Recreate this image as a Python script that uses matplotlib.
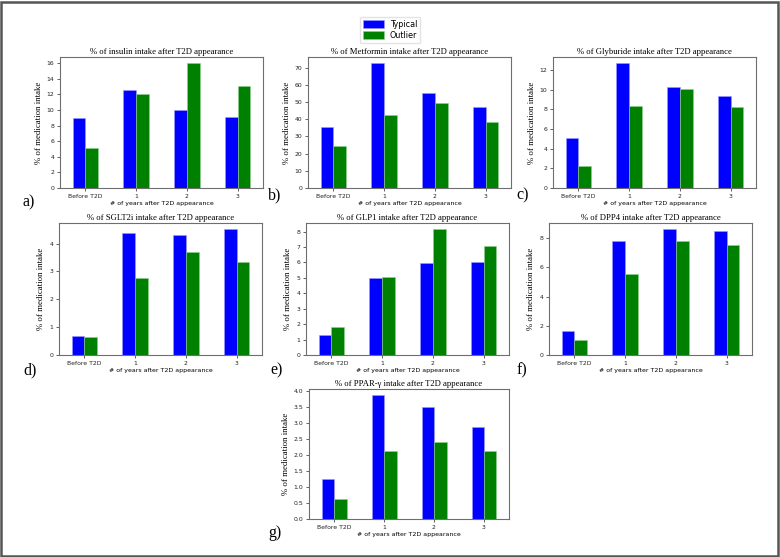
import matplotlib
matplotlib.use("Agg")
import matplotlib.pyplot as plt
from matplotlib.patches import Rectangle
import numpy as np

categories = ['Before T2D', '1', '2', '3']

drugs = ['insulin', 'Metformin', 'Glyburide', 'SGLT2i', 'GLP1', 'DPP4', 'PPAR-\u03b3']
panel_labels = ['a)', 'b)', 'c)', 'd)', 'e)', 'f)', 'g)']

typical_insulin = [9.0, 12.55, 10.05, 9.05]
outlier_insulin = [5.17, 12.05, 16.0, 13.03]
typical_metformin = [35.6, 72.5, 55.2, 47.3]
outlier_metformin = [24.2, 42.2, 49.6, 38.6]
typical_glyburide = [5.12, 12.7, 10.31, 9.4]
outlier_glyburide = [2.26, 8.36, 10.04, 8.29]
typical_sglt2i = [0.67, 4.39, 4.3, 4.51]
outlier_sglt2i = [0.63, 2.77, 3.7, 3.33]
typical_glp1 = [1.29, 5.02, 5.94, 6.05]
outlier_glp1 = [1.8, 5.04, 8.15, 7.06]
typical_dpp4 = [1.63, 7.8, 8.61, 8.47]
outlier_dpp4 = [1.02, 5.54, 7.8, 7.53]
typical_ppar = [1.26, 3.86, 3.5, 2.86]
outlier_ppar = [0.62, 2.12, 2.41, 2.12]

typical = [typical_insulin, typical_metformin, typical_glyburide, typical_sglt2i,
           typical_glp1, typical_dpp4, typical_ppar]
outlier = [outlier_insulin, outlier_metformin, outlier_glyburide, outlier_sglt2i,
           outlier_glp1, outlier_dpp4, outlier_ppar]

W, H = 780, 557
fig = plt.figure(figsize=(W / 100, H / 100), dpi=100)

# axes boxes in pixels: left, top, width, height
boxes = [(60, 57, 203, 131), (308, 57, 203, 131), (553, 57, 203, 131),
         (59, 223, 203, 132), (306, 223, 203, 132), (549, 223, 203, 132),
         (309, 389, 200, 130)]
label_pos = [(29, 202), (275, 195), (523, 195),
             (30, 370), (277, 370), (522, 370),
             (275, 533)]

serif = 'Liberation Serif'
barWidth = 0.25
x = np.arange(len(categories))

for i in range(len(drugs)):
    l, t, w, h = boxes[i]
    ax = fig.add_axes([l / W, 1 - (t + h) / H, w / W, h / H])
    ax.bar(x - barWidth / 2, typical[i], width=barWidth, color='#0000ff',
           edgecolor='#9a9aff', linewidth=0.4, label='Typical')
    ax.bar(x + barWidth / 2, outlier[i], width=barWidth, color='#008000',
           edgecolor='#8fd08f', linewidth=0.4, label='Outlier')
    ax.set_xlim(-0.5, 3.5)
    ax.set_xticks(x)
    ax.set_xticklabels(categories)
    ax.tick_params(labelsize=4.4, length=2.5, width=0.5, pad=1.5, colors='#222222')
    for s in ax.spines.values():
        s.set_color('#6e6e6e')
        s.set_linewidth(0.8)
    ax.set_title('% of ' + drugs[i] + ' intake after T2D appearance',
                 fontsize=6.2, family=serif, pad=2.5)
    ax.set_ylabel('% of medication intake', fontsize=6.3, family=serif, labelpad=3)
    ax.set_xlabel('# of years after T2D appearance', fontsize=4.5, labelpad=1.5)
    fig.text(label_pos[i][0] / W, 1 - label_pos[i][1] / H, panel_labels[i],
             fontsize=11.5, family=serif, ha='center', va='center')
    if i == 0:
        handles, labels = ax.get_legend_handles_labels()

fig.legend(handles, labels, loc='center', bbox_to_anchor=(0.5, 1 - 30 / H),
           fontsize=5.8, frameon=True, edgecolor='#dddddd', fancybox=True,
           handlelength=2.6, handleheight=1.1, borderpad=0.4, labelspacing=0.25,
           handletextpad=0.7)

# grey frame around the whole figure
fig.add_artist(Rectangle((0.0015, 0.002), 0.996, 0.995, transform=fig.transFigure,
                         fill=False, edgecolor='#555555', linewidth=1.8))

fig.savefig('out.png', dpi=100)
